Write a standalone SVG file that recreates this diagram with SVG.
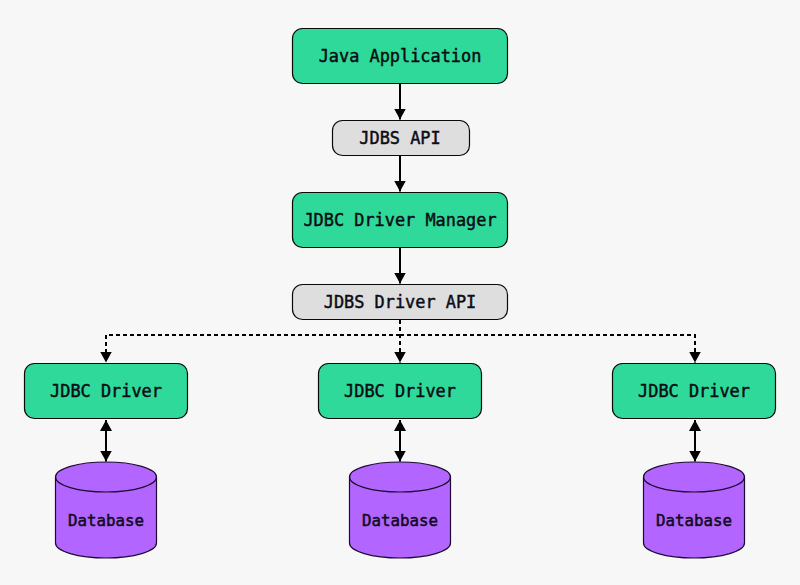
<svg xmlns="http://www.w3.org/2000/svg" width="800" height="585" viewBox="0 0 800 585">
<style>
.g{fill:#2fd999;stroke:#0a0a0a;stroke-width:1.2}
.s{fill:#dedede;stroke:#0a0a0a;stroke-width:1.2}
.d{fill:#b266ff;stroke:#1c0a33;stroke-width:1.2}
.t{font-family:"DejaVu Sans Mono","Liberation Mono",monospace;font-size:16.9px;font-weight:400;fill:#0c0c14;stroke:#0c0c14;stroke-width:.45;text-anchor:middle}
.db{font-family:"DejaVu Sans Mono","Liberation Mono",monospace;font-size:15.8px;font-weight:400;fill:#120a24;stroke:#120a24;stroke-width:.5;text-anchor:middle}
.l{fill:none;stroke:#000;stroke-width:2}
.da{stroke-dasharray:4 3}
</style>
<defs>
<marker id="a" markerUnits="userSpaceOnUse" markerWidth="14" markerHeight="14" refX="11" refY="7" orient="auto"><path d="M0 1L11 7L0 13Z" fill="#000"/></marker>
<marker id="b" markerUnits="userSpaceOnUse" markerWidth="14" markerHeight="14" refX="0" refY="7" orient="auto"><path d="M11 1L0 7L11 13Z" fill="#000"/></marker>
<g id="cyl"><path d="M-50.500 -43A50.500 15 0 0 1 50.500 -43V23A50.500 15 0 0 1 -50.500 23Z"/><path fill="none" d="M-50.500 -43A50.500 15 0 0 0 50.500 -43"/></g>
</defs>
<rect width="800" height="585" fill="#f7f7f7"/>
<g id="connectors">
<path class="l" d="M400 83V119.500" marker-end="url(#a)"/>
<path class="l" d="M400 155V191.500" marker-end="url(#a)"/>
<path class="l" d="M400 247V283.500" marker-end="url(#a)"/>
<path class="l da" d="M400 320V362.500" marker-end="url(#a)"/>
<path class="l da" d="M400 335H106V362.500" marker-end="url(#a)"/>
<path class="l da" d="M400 335H695V362.500" marker-end="url(#a)"/>
<path class="l" d="M106 420V461.500" marker-start="url(#b)" marker-end="url(#a)"/>
<path class="l" d="M400 420V461.500" marker-start="url(#b)" marker-end="url(#a)"/>
<path class="l" d="M695 420V461.500" marker-start="url(#b)" marker-end="url(#a)"/>
</g>
<g id="java-application"><rect class="g" x="292.500" y="28.500" width="215" height="55" rx="10"/><text class="t" x="400" y="61.500">Java Application</text></g>
<g id="jdbs-api"><rect class="s" x="332.500" y="120.500" width="137" height="35" rx="10"/><text class="t" x="400" y="143.500">JDBS API</text></g>
<g id="jdbc-driver-manager"><rect class="g" x="292.500" y="192.500" width="215" height="55" rx="10"/><text class="t" x="400" y="225.500">JDBC Driver Manager</text></g>
<g id="jdbs-driver-api"><rect class="s" x="292.500" y="284.500" width="215" height="35" rx="10"/><text class="t" x="400" y="307.500">JDBS Driver API</text></g>
<g id="driver-1"><rect class="g" x="24.500" y="363.500" width="163" height="55" rx="10"/><text class="t" x="106" y="396.500">JDBC Driver</text></g>
<g id="driver-2"><rect class="g" x="318.500" y="363.500" width="163" height="55" rx="10"/><text class="t" x="400" y="396.500">JDBC Driver</text></g>
<g id="driver-3"><rect class="g" x="612.500" y="363.500" width="163" height="55" rx="10"/><text class="t" x="694" y="396.500">JDBC Driver</text></g>
<g id="database-1"><use class="d" href="#cyl" transform="translate(106 520)"/><text class="db" x="106" y="525.500">Database</text></g>
<g id="database-2"><use class="d" href="#cyl" transform="translate(400 520)"/><text class="db" x="400" y="525.500">Database</text></g>
<g id="database-3"><use class="d" href="#cyl" transform="translate(694 520)"/><text class="db" x="694" y="525.500">Database</text></g>
</svg>
